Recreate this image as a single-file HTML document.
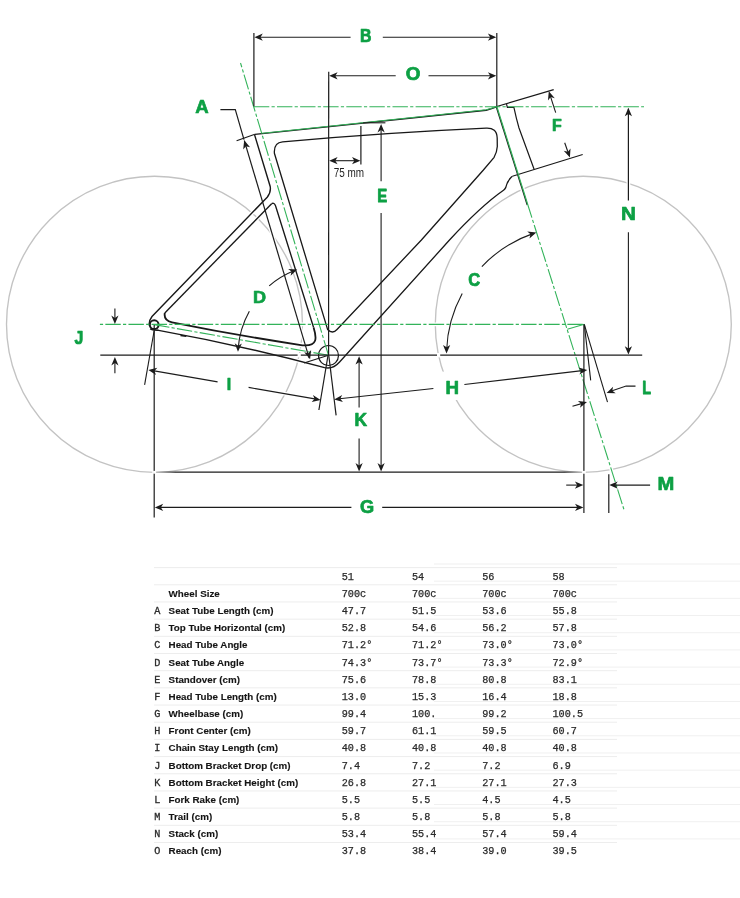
<!DOCTYPE html>
<html><head><meta charset="utf-8"><style>
html,body{margin:0;padding:0;background:#fff;}
svg{display:block;will-change:transform;}
</style></head><body>
<svg width="740" height="898" viewBox="0 0 740 898">
<rect width="740" height="898" fill="#fff"/>
<circle cx="154.5" cy="324.3" r="148" stroke="#c3c3c3" stroke-width="1.35" fill="none"/>
<circle cx="583.3" cy="324.3" r="148" stroke="#c3c3c3" stroke-width="1.35" fill="none"/>
<line x1="496.20" y1="106.50" x2="527.28" y2="205.00" stroke="#fff" stroke-width="3.90"/>
<path d="M254.9,134.4 L486.2,110.3 Q491,109.2 497,106.7" stroke="#fff" stroke-width="4.00" fill="none"/>
<path d="M262.3,133.25 L486.2,109.8 Q491,108.7 497,106.3" stroke="#fff" stroke-width="3.70" fill="none"/>
<path d="M236.6,140.7 L254.9,134.2" stroke="#fff" stroke-width="3.80" fill="none"/>
<path d="M254.6,134.9 L270.2,186.5 Q271.2,192.5 267.2,197.2 L152,316.5 Q148.6,321 149.2,325.5" stroke="#fff" stroke-width="4.00" fill="none"/>
<path d="M150.2,328.8 Q152,330.5 158.4,330.3" stroke="#fff" stroke-width="4.00" fill="none"/>
<path d="M157.3,330.1 Q240,345 324.6,367.6 Q333,369.5 339.6,362 L449.5,240 Q481,206 503.5,190.3 Q505,189 505.7,187.6 Q507,182 510.5,178 Q511.5,176.8 512.4,176.2" stroke="#fff" stroke-width="3.90" fill="none"/>
<line x1="304.00" y1="363.00" x2="328.50" y2="355.30" stroke="#fff" stroke-width="3.70"/>
<line x1="512.40" y1="176.20" x2="582.70" y2="154.50" stroke="#fff" stroke-width="3.80"/>
<path d="M506.5,104.2 L507.4,107.4 L513.9,107.4 C515.5,115 517,121 519,128 L534.1,169.2" stroke="#fff" stroke-width="3.80" fill="none"/>
<line x1="496.80" y1="106.50" x2="553.70" y2="89.60" stroke="#fff" stroke-width="3.80"/>
<path d="M271.6,203.7 Q274.2,202.2 275.6,206 L313.6,327.5" stroke="#fff" stroke-width="3.95" fill="none"/>
<path d="M313.6,327.5 C316.5,337 318.5,346.5 302.5,345.3 Q237,335.4 172,322.3 Q163.5,320.5 164.8,313" stroke="#fff" stroke-width="4.40" fill="none"/>
<path d="M164.8,313 L271.6,203.7" stroke="#fff" stroke-width="3.95" fill="none"/>
<path d="M282.6,141.8 Q384.4,132.65 486.2,128.1 Q496.8,127.6 497.2,138 L497.3,146.5 Q497,152 494.1,157.3 L483.4,170 L421.4,240 L337,329.5 Q332.5,334.5 327.6,329.5 L274.4,153.3 Q273.6,142.5 282.6,141.8 Z" stroke="#fff" stroke-width="3.90" fill="none"/>
<line x1="584.30" y1="324.30" x2="590.70" y2="380.40" stroke="#fff" stroke-width="3.70"/>
<line x1="584.30" y1="324.30" x2="607.50" y2="402.20" stroke="#fff" stroke-width="3.70"/>
<line x1="253.90" y1="106.80" x2="644.00" y2="106.80" stroke="#fff" stroke-width="3.70"/>
<line x1="99.90" y1="324.40" x2="584.30" y2="324.40" stroke="#fff" stroke-width="3.70"/>
<line x1="328.50" y1="355.30" x2="240.52" y2="63.00" stroke="#fff" stroke-width="3.70"/>
<line x1="154.20" y1="324.60" x2="328.50" y2="355.30" stroke="#fff" stroke-width="3.70"/>
<line x1="496.80" y1="106.50" x2="527.25" y2="203.00" stroke="#fff" stroke-width="3.80"/>
<line x1="527.25" y1="203.00" x2="624.10" y2="510.00" stroke="#fff" stroke-width="3.70"/>
<line x1="584.30" y1="324.30" x2="567.30" y2="329.30" stroke="#fff" stroke-width="3.70"/>
<line x1="253.90" y1="33.10" x2="253.90" y2="106.30" stroke="#fff" stroke-width="3.80"/>
<line x1="496.80" y1="33.00" x2="496.80" y2="106.30" stroke="#fff" stroke-width="3.80"/>
<line x1="350.60" y1="37.20" x2="257.40" y2="37.20" stroke="#fff" stroke-width="3.70"/>
<line x1="382.80" y1="37.20" x2="493.30" y2="37.20" stroke="#fff" stroke-width="3.70"/>
<line x1="328.70" y1="71.70" x2="328.60" y2="355.00" stroke="#fff" stroke-width="3.80"/>
<line x1="395.70" y1="75.80" x2="332.20" y2="75.80" stroke="#fff" stroke-width="3.70"/>
<line x1="428.50" y1="75.80" x2="493.30" y2="75.80" stroke="#fff" stroke-width="3.70"/>
<line x1="360.90" y1="126.10" x2="360.90" y2="164.50" stroke="#fff" stroke-width="3.80"/>
<line x1="344.00" y1="160.70" x2="332.20" y2="160.70" stroke="#fff" stroke-width="3.70"/>
<line x1="344.00" y1="160.70" x2="357.40" y2="160.70" stroke="#fff" stroke-width="3.70"/>
<line x1="363.20" y1="122.80" x2="385.40" y2="122.80" stroke="#fff" stroke-width="3.70"/>
<line x1="381.10" y1="181.20" x2="381.10" y2="127.00" stroke="#fff" stroke-width="3.70"/>
<line x1="381.10" y1="213.10" x2="381.10" y2="468.50" stroke="#fff" stroke-width="3.70"/>
<path d="M220.4,109.6 L235.3,109.6 L244,139.6" stroke="#fff" stroke-width="3.80" fill="none"/>
<line x1="244.30" y1="140.60" x2="309.20" y2="358.10" stroke="#fff" stroke-width="3.80"/>
<line x1="555.70" y1="112.60" x2="549.72" y2="94.15" stroke="#fff" stroke-width="3.70"/>
<line x1="564.70" y1="142.70" x2="568.91" y2="154.77" stroke="#fff" stroke-width="3.70"/>
<line x1="628.40" y1="108.80" x2="628.40" y2="200.50" stroke="#fff" stroke-width="3.80"/>
<line x1="628.40" y1="232.20" x2="628.40" y2="351.60" stroke="#fff" stroke-width="3.70"/>
<path d="M481.87,266.54 A128.8,128.8 0 0 1 533.51,233.37" stroke="#fff" stroke-width="3.70" fill="none"/>
<path d="M462.22,293.54 A128.8,128.8 0 0 0 446.59,350.40" stroke="#fff" stroke-width="3.70" fill="none"/>
<path d="M269.21,285.87 A91.3,91.3 0 0 1 294.47,270.58" stroke="#fff" stroke-width="3.70" fill="none"/>
<path d="M249.34,311.24 A90.6,90.6 0 0 0 238.13,348.83" stroke="#fff" stroke-width="3.70" fill="none"/>
<line x1="114.90" y1="308.50" x2="114.90" y2="321.00" stroke="#fff" stroke-width="3.70"/>
<line x1="114.90" y1="373.20" x2="114.90" y2="360.00" stroke="#fff" stroke-width="3.70"/>
<line x1="154.10" y1="331.00" x2="144.60" y2="384.80" stroke="#fff" stroke-width="3.70"/>
<line x1="154.20" y1="325.00" x2="154.20" y2="517.60" stroke="#fff" stroke-width="3.80"/>
<line x1="328.00" y1="355.50" x2="318.90" y2="410.00" stroke="#fff" stroke-width="3.80"/>
<line x1="328.80" y1="355.50" x2="336.10" y2="415.40" stroke="#fff" stroke-width="3.80"/>
<line x1="217.60" y1="381.90" x2="151.36" y2="370.41" stroke="#fff" stroke-width="3.70"/>
<line x1="248.60" y1="387.40" x2="317.64" y2="399.39" stroke="#fff" stroke-width="3.70"/>
<line x1="433.40" y1="388.50" x2="337.18" y2="399.07" stroke="#fff" stroke-width="3.70"/>
<line x1="464.40" y1="384.50" x2="584.32" y2="370.35" stroke="#fff" stroke-width="3.70"/>
<path d="M635.5,386.1 L626.1,386.1 L610,391.6" stroke="#fff" stroke-width="3.70" fill="none"/>
<line x1="583.90" y1="324.50" x2="583.90" y2="513.10" stroke="#fff" stroke-width="3.80"/>
<line x1="572.50" y1="406.30" x2="584.12" y2="402.85" stroke="#fff" stroke-width="3.70"/>
<line x1="608.80" y1="474.20" x2="608.80" y2="513.10" stroke="#fff" stroke-width="3.80"/>
<line x1="566.20" y1="485.10" x2="580.30" y2="485.10" stroke="#fff" stroke-width="3.70"/>
<line x1="650.10" y1="485.10" x2="612.30" y2="485.10" stroke="#fff" stroke-width="3.70"/>
<line x1="359.10" y1="407.40" x2="359.10" y2="359.20" stroke="#fff" stroke-width="3.70"/>
<line x1="359.10" y1="438.40" x2="359.10" y2="468.50" stroke="#fff" stroke-width="3.70"/>
<line x1="351.40" y1="507.40" x2="157.80" y2="507.40" stroke="#fff" stroke-width="3.70"/>
<line x1="382.20" y1="507.40" x2="580.40" y2="507.40" stroke="#fff" stroke-width="3.70"/>
<line x1="496.20" y1="106.50" x2="527.28" y2="205.00" stroke="#181818" stroke-width="1.3" />
<path d="M254.9,134.4 L486.2,110.3 Q491,109.2 497,106.7" stroke="#181818" stroke-width="1.4" fill="none" />
<path d="M262.3,133.25 L486.2,109.8 Q491,108.7 497,106.3" stroke="#33b35a" stroke-width="1.1" fill="none" />
<path d="M236.6,140.7 L254.9,134.2" stroke="#181818" stroke-width="1.2" fill="none" />
<path d="M254.6,134.9 L270.2,186.5 Q271.2,192.5 267.2,197.2 L152,316.5 Q148.6,321 149.2,325.5" stroke="#181818" stroke-width="1.4" fill="none" />
<circle cx="154.2" cy="324.7" r="4.4" stroke="#181818" stroke-width="2.0" fill="none"/>
<path d="M150.2,328.8 Q152,330.5 158.4,330.3" stroke="#181818" stroke-width="1.4" fill="none" />
<path d="M157.3,330.1 Q240,345 324.6,367.6 Q333,369.5 339.6,362 L449.5,240 Q481,206 503.5,190.3 Q505,189 505.7,187.6 Q507,182 510.5,178 Q511.5,176.8 512.4,176.2" stroke="#181818" stroke-width="1.3" fill="none" />
<path d="M180.5,335.4 L186.3,336.3" stroke="#181818" stroke-width="1.5" fill="none" />
<line x1="304.00" y1="363.00" x2="328.50" y2="355.30" stroke="#181818" stroke-width="1.1" />
<line x1="512.40" y1="176.20" x2="582.70" y2="154.50" stroke="#181818" stroke-width="1.2" />
<path d="M506.5,104.2 L507.4,107.4 L513.9,107.4 C515.5,115 517,121 519,128 L534.1,169.2" stroke="#181818" stroke-width="1.2" fill="none" />
<line x1="496.80" y1="106.50" x2="553.70" y2="89.60" stroke="#181818" stroke-width="1.2" />
<circle cx="328.5" cy="355.5" r="10" stroke="#181818" stroke-width="1.2" fill="none"/>
<path d="M271.6,203.7 Q274.2,202.2 275.6,206 L313.6,327.5" stroke="#181818" stroke-width="1.35" fill="none" />
<path d="M313.6,327.5 C316.5,337 318.5,346.5 302.5,345.3 Q237,335.4 172,322.3 Q163.5,320.5 164.8,313" stroke="#181818" stroke-width="1.8" fill="none" />
<path d="M164.8,313 L271.6,203.7" stroke="#181818" stroke-width="1.35" fill="none" />
<path d="M282.6,141.8 Q384.4,132.65 486.2,128.1 Q496.8,127.6 497.2,138 L497.3,146.5 Q497,152 494.1,157.3 L483.4,170 L421.4,240 L337,329.5 Q332.5,334.5 327.6,329.5 L274.4,153.3 Q273.6,142.5 282.6,141.8 Z" stroke="#181818" stroke-width="1.3" fill="none" />
<line x1="584.30" y1="324.30" x2="590.70" y2="380.40" stroke="#181818" stroke-width="1.1" />
<line x1="584.30" y1="324.30" x2="607.50" y2="402.20" stroke="#181818" stroke-width="1.1" />
<line x1="253.90" y1="106.80" x2="644.00" y2="106.80" stroke="#33b35a" stroke-width="1.1" stroke-dasharray="15.4 2.25 3.2 2.25" stroke-dashoffset="0"/>
<line x1="99.90" y1="324.40" x2="584.30" y2="324.40" stroke="#33b35a" stroke-width="1.1" stroke-dasharray="15.4 2.25 3.2 2.25" stroke-dashoffset="17.65"/>
<line x1="328.50" y1="355.30" x2="240.52" y2="63.00" stroke="#33b35a" stroke-width="1.1" stroke-dasharray="15.4 2.25 3.2 2.25" stroke-dashoffset="-0.5"/>
<line x1="154.20" y1="324.60" x2="328.50" y2="355.30" stroke="#33b35a" stroke-width="1.1" stroke-dasharray="15.4 2.25 3.2 2.25" stroke-dashoffset="0"/>
<line x1="496.80" y1="106.50" x2="527.25" y2="203.00" stroke="#33b35a" stroke-width="1.2" />
<line x1="527.25" y1="203.00" x2="624.10" y2="510.00" stroke="#33b35a" stroke-width="1.1" stroke-dasharray="15.4 2.25 3.2 2.25" stroke-dashoffset="0"/>
<line x1="584.30" y1="324.30" x2="567.30" y2="329.30" stroke="#33b35a" stroke-width="1.1" />
<line x1="253.90" y1="33.10" x2="253.90" y2="106.30" stroke="#1c1c1c" stroke-width="1.2" />
<line x1="496.80" y1="33.00" x2="496.80" y2="106.30" stroke="#1c1c1c" stroke-width="1.2" />
<line x1="350.60" y1="37.20" x2="257.40" y2="37.20" stroke="#1c1c1c" stroke-width="1.1" />
<path d="M254.40,37.20L262.80,33.60L260.50,37.20L262.80,40.80Z" fill="#1c1c1c"/>
<line x1="382.80" y1="37.20" x2="493.30" y2="37.20" stroke="#1c1c1c" stroke-width="1.1" />
<path d="M496.30,37.20L487.90,40.80L490.20,37.20L487.90,33.60Z" fill="#1c1c1c"/>
<text transform="matrix(0.15905,0,0,0.17733,360.086,41.550)" font-family="Liberation Sans" font-weight="bold" font-size="100.0" fill="#0da044" stroke="#0da044" stroke-width="4.16" stroke-linejoin="round">B</text>
<line x1="328.70" y1="71.70" x2="328.60" y2="355.00" stroke="#1c1c1c" stroke-width="1.2" />
<line x1="395.70" y1="75.80" x2="332.20" y2="75.80" stroke="#1c1c1c" stroke-width="1.1" />
<path d="M329.20,75.80L337.60,72.20L335.30,75.80L337.60,79.40Z" fill="#1c1c1c"/>
<line x1="428.50" y1="75.80" x2="493.30" y2="75.80" stroke="#1c1c1c" stroke-width="1.1" />
<path d="M496.30,75.80L487.90,79.40L490.20,75.80L487.90,72.20Z" fill="#1c1c1c"/>
<text transform="matrix(0.18854,0,0,0.17796,405.677,80.376)" font-family="Liberation Sans" font-weight="bold" font-size="100.0" fill="#0da044" stroke="#0da044" stroke-width="3.82" stroke-linejoin="round">O</text>
<line x1="360.90" y1="126.10" x2="360.90" y2="164.50" stroke="#1c1c1c" stroke-width="1.2" />
<line x1="344.00" y1="160.70" x2="332.20" y2="160.70" stroke="#1c1c1c" stroke-width="1.1" />
<path d="M329.20,160.70L337.60,157.10L335.30,160.70L337.60,164.30Z" fill="#1c1c1c"/>
<line x1="344.00" y1="160.70" x2="357.40" y2="160.70" stroke="#1c1c1c" stroke-width="1.1" />
<path d="M360.40,160.70L352.00,164.30L354.30,160.70L352.00,157.10Z" fill="#1c1c1c"/>
<text x="333.7" y="176.6" font-family="Liberation Sans" font-size="12.7" fill="#1e1e1e" textLength="30.4" lengthAdjust="spacingAndGlyphs">75 mm</text>
<line x1="363.20" y1="122.80" x2="385.40" y2="122.80" stroke="#1c1c1c" stroke-width="1.1" />
<line x1="381.10" y1="181.20" x2="381.10" y2="127.00" stroke="#1c1c1c" stroke-width="1.1" />
<path d="M381.10,124.00L384.70,132.40L381.10,130.10L377.50,132.40Z" fill="#1c1c1c"/>
<line x1="381.10" y1="213.10" x2="381.10" y2="468.50" stroke="#1c1c1c" stroke-width="1.1" />
<path d="M381.10,471.50L377.50,463.10L381.10,465.40L384.70,463.10Z" fill="#1c1c1c"/>
<text transform="matrix(0.14972,0,0,0.17878,377.148,202.250)" font-family="Liberation Sans" font-weight="bold" font-size="100.0" fill="#0da044" stroke="#0da044" stroke-width="4.26" stroke-linejoin="round">E</text>
<path d="M220.4,109.6 L235.3,109.6 L244,139.6" stroke="#1c1c1c" stroke-width="1.2" fill="none" />
<line x1="244.30" y1="140.60" x2="309.20" y2="358.10" stroke="#1c1c1c" stroke-width="1.2" />
<path d="M244.20,140.30L250.07,147.31L245.96,146.14L243.17,149.38Z" fill="#1c1c1c"/>
<path d="M310.10,359.20L304.23,352.19L308.34,353.36L311.13,350.12Z" fill="#1c1c1c"/>
<text transform="matrix(0.18632,0,0,0.17733,195.186,113.450)" font-family="Liberation Sans" font-weight="bold" font-size="100.0" fill="#0da044" stroke="#0da044" stroke-width="3.85" stroke-linejoin="round">A</text>
<line x1="555.70" y1="112.60" x2="549.72" y2="94.15" stroke="#1c1c1c" stroke-width="1.1" />
<path d="M548.80,91.30L554.81,98.18L550.68,97.10L547.96,100.40Z" fill="#1c1c1c"/>
<line x1="564.70" y1="142.70" x2="568.91" y2="154.77" stroke="#1c1c1c" stroke-width="1.1" />
<path d="M569.90,157.60L563.73,150.86L567.89,151.84L570.53,148.48Z" fill="#1c1c1c"/>
<text transform="matrix(0.15966,0,0,0.17369,551.882,131.400)" font-family="Liberation Sans" font-weight="bold" font-size="100.0" fill="#0da044" stroke="#0da044" stroke-width="4.20" stroke-linejoin="round">F</text>
<line x1="628.40" y1="108.80" x2="628.40" y2="200.50" stroke="#1c1c1c" stroke-width="1.2" />
<path d="M628.40,107.80L632.00,116.20L628.40,113.90L624.80,116.20Z" fill="#1c1c1c"/>
<line x1="628.40" y1="232.20" x2="628.40" y2="351.60" stroke="#1c1c1c" stroke-width="1.1" />
<path d="M628.40,354.60L624.80,346.20L628.40,348.50L632.00,346.20Z" fill="#1c1c1c"/>
<text transform="matrix(0.20582,0,0,0.17588,621.073,219.850)" font-family="Liberation Sans" font-weight="bold" font-size="100.0" fill="#0da044" stroke="#0da044" stroke-width="3.67" stroke-linejoin="round">N</text>
<path d="M481.87,266.54 A128.8,128.8 0 0 1 533.51,233.37" stroke="#1c1c1c" stroke-width="1.1" fill="none" />
<path d="M536.35,232.43L529.44,238.40L530.54,234.27L527.26,231.54Z" fill="#1c1c1c"/>
<path d="M462.22,293.54 A128.8,128.8 0 0 0 446.59,350.40" stroke="#1c1c1c" stroke-width="1.1" fill="none" />
<path d="M446.51,353.40L443.03,344.95L446.60,347.30L450.23,345.05Z" fill="#1c1c1c"/>
<text transform="matrix(0.16519,0,0,0.17938,468.272,285.775)" font-family="Liberation Sans" font-weight="bold" font-size="100.0" fill="#0da044" stroke="#0da044" stroke-width="4.06" stroke-linejoin="round">C</text>
<path d="M269.21,285.87 A91.3,91.3 0 0 1 294.47,270.58" stroke="#1c1c1c" stroke-width="1.1" fill="none" />
<path d="M297.27,269.51L290.61,275.76L291.54,271.59L288.15,269.00Z" fill="#1c1c1c"/>
<path d="M249.34,311.24 A90.6,90.6 0 0 0 238.13,348.83" stroke="#1c1c1c" stroke-width="1.1" fill="none" />
<path d="M237.97,351.82L234.69,343.29L238.20,345.73L241.89,343.57Z" fill="#1c1c1c"/>
<text transform="matrix(0.18099,0,0,0.17369,252.939,302.550)" font-family="Liberation Sans" font-weight="bold" font-size="100.0" fill="#0da044" stroke="#0da044" stroke-width="3.95" stroke-linejoin="round">D</text>
<line x1="100.30" y1="355.20" x2="642.20" y2="355.20" stroke="#1c1c1c" stroke-width="1.2" />
<rect x="297.6" y="353" width="3.2" height="4.4" fill="#fff"/>
<rect x="437" y="353" width="3.2" height="4.4" fill="#fff"/>
<line x1="114.90" y1="308.50" x2="114.90" y2="321.00" stroke="#1c1c1c" stroke-width="1.1" />
<path d="M114.90,324.00L111.30,315.60L114.90,317.90L118.50,315.60Z" fill="#1c1c1c"/>
<line x1="114.90" y1="373.20" x2="114.90" y2="360.00" stroke="#1c1c1c" stroke-width="1.1" />
<path d="M114.90,357.00L118.50,365.40L114.90,363.10L111.30,365.40Z" fill="#1c1c1c"/>
<text transform="matrix(0.15868,0,0,0.17628,74.510,343.878)" font-family="Liberation Sans" font-weight="bold" font-size="100.0" fill="#0da044" stroke="#0da044" stroke-width="4.18" stroke-linejoin="round">J</text>
<line x1="154.10" y1="331.00" x2="144.60" y2="384.80" stroke="#1c1c1c" stroke-width="1.1" />
<line x1="154.20" y1="325.00" x2="154.20" y2="517.60" stroke="#1c1c1c" stroke-width="1.2" />
<line x1="328.00" y1="355.50" x2="318.90" y2="410.00" stroke="#1c1c1c" stroke-width="1.2" />
<line x1="328.80" y1="355.50" x2="336.10" y2="415.40" stroke="#1c1c1c" stroke-width="1.2" />
<line x1="217.60" y1="381.90" x2="151.36" y2="370.41" stroke="#1c1c1c" stroke-width="1.1" />
<path d="M148.40,369.90L157.29,367.79L154.41,370.94L156.06,374.88Z" fill="#1c1c1c"/>
<line x1="248.60" y1="387.40" x2="317.64" y2="399.39" stroke="#1c1c1c" stroke-width="1.1" />
<path d="M320.60,399.90L311.71,402.01L314.59,398.86L312.94,394.92Z" fill="#1c1c1c"/>
<text transform="matrix(0.15967,0,0,0.16861,226.782,389.550)" font-family="Liberation Sans" font-weight="bold" font-size="100.0" fill="#0da044" stroke="#0da044" stroke-width="4.26" stroke-linejoin="round">I</text>
<line x1="433.40" y1="388.50" x2="337.18" y2="399.07" stroke="#1c1c1c" stroke-width="1.1" />
<path d="M334.20,399.40L342.16,394.90L340.26,398.73L342.94,402.06Z" fill="#1c1c1c"/>
<line x1="464.40" y1="384.50" x2="584.32" y2="370.35" stroke="#1c1c1c" stroke-width="1.1" />
<path d="M587.30,370.00L579.38,374.56L581.24,370.71L578.54,367.41Z" fill="#1c1c1c"/>
<rect x="441.2" y="371.6" width="22" height="28.4" fill="#fff"/>
<text transform="matrix(0.18711,0,0,0.17733,445.498,393.650)" font-family="Liberation Sans" font-weight="bold" font-size="100.0" fill="#0da044" stroke="#0da044" stroke-width="3.84" stroke-linejoin="round">H</text>
<path d="M635.5,386.1 L626.1,386.1 L610,391.6" stroke="#1c1c1c" stroke-width="1.1" fill="none" />
<path d="M606.60,393.10L613.06,386.64L612.26,390.83L615.74,393.32Z" fill="#1c1c1c"/>
<text transform="matrix(0.14420,0,0,0.17660,642.285,394.400)" font-family="Liberation Sans" font-weight="bold" font-size="100.0" fill="#0da044" stroke="#0da044" stroke-width="4.36" stroke-linejoin="round">L</text>
<line x1="583.90" y1="324.50" x2="583.90" y2="513.10" stroke="#1c1c1c" stroke-width="1.2" />
<line x1="572.50" y1="406.30" x2="584.12" y2="402.85" stroke="#1c1c1c" stroke-width="1.1" />
<path d="M587.00,402.00L579.97,407.84L581.15,403.73L577.92,400.94Z" fill="#1c1c1c"/>
<line x1="608.80" y1="474.20" x2="608.80" y2="513.10" stroke="#1c1c1c" stroke-width="1.2" />
<line x1="566.20" y1="485.10" x2="580.30" y2="485.10" stroke="#1c1c1c" stroke-width="1.1" />
<path d="M583.30,485.10L574.90,488.70L577.20,485.10L574.90,481.50Z" fill="#1c1c1c"/>
<line x1="650.10" y1="485.10" x2="612.30" y2="485.10" stroke="#1c1c1c" stroke-width="1.1" />
<path d="M609.30,485.10L617.70,481.50L615.40,485.10L617.70,488.70Z" fill="#1c1c1c"/>
<text transform="matrix(0.20165,0,0,0.18024,657.601,489.550)" font-family="Liberation Sans" font-weight="bold" font-size="100.0" fill="#0da044" stroke="#0da044" stroke-width="3.67" stroke-linejoin="round">M</text>
<defs><linearGradient id="gl" gradientUnits="userSpaceOnUse" x1="154" y1="0" x2="584" y2="0"><stop offset="0" stop-color="#1c1c1c" stop-opacity="0"/><stop offset="0.05" stop-color="#1c1c1c" stop-opacity="1"/><stop offset="0.955" stop-color="#1c1c1c" stop-opacity="1"/><stop offset="1" stop-color="#1c1c1c" stop-opacity="0"/></linearGradient></defs>
<line x1="154.4" y1="472.2" x2="583.7" y2="472.2" stroke="url(#gl)" stroke-width="1.2"/>
<rect x="153.1" y="470.9" width="2.6" height="2.8" fill="#fff"/>
<rect x="582.5" y="470.9" width="2.6" height="2.8" fill="#fff"/>
<line x1="359.10" y1="407.40" x2="359.10" y2="359.20" stroke="#1c1c1c" stroke-width="1.1" />
<path d="M359.10,356.20L362.70,364.60L359.10,362.30L355.50,364.60Z" fill="#1c1c1c"/>
<line x1="359.10" y1="438.40" x2="359.10" y2="468.50" stroke="#1c1c1c" stroke-width="1.1" />
<path d="M359.10,471.50L355.50,463.10L359.10,465.40L362.70,463.10Z" fill="#1c1c1c"/>
<text transform="matrix(0.17492,0,0,0.17878,354.480,425.900)" font-family="Liberation Sans" font-weight="bold" font-size="100.0" fill="#0da044" stroke="#0da044" stroke-width="3.96" stroke-linejoin="round">K</text>
<line x1="351.40" y1="507.40" x2="157.80" y2="507.40" stroke="#1c1c1c" stroke-width="1.1" />
<path d="M154.80,507.40L163.20,503.80L160.90,507.40L163.20,511.00Z" fill="#1c1c1c"/>
<line x1="382.20" y1="507.40" x2="580.40" y2="507.40" stroke="#1c1c1c" stroke-width="1.1" />
<path d="M583.40,507.40L575.00,511.00L577.30,507.40L575.00,503.80Z" fill="#1c1c1c"/>
<text transform="matrix(0.18227,0,0,0.18079,359.902,513.373)" font-family="Liberation Sans" font-weight="bold" font-size="100.0" fill="#0da044" stroke="#0da044" stroke-width="3.86" stroke-linejoin="round">G</text>
<rect x="154" y="567.10" width="463" height="1" fill="#ededed"/>
<rect x="434" y="563.50" width="306" height="1" fill="#f0f0f0"/>
<text x="341.70" y="579.60" font-family="Liberation Mono" font-size="10.2" fill="#2a2a2a" stroke="#2a2a2a" stroke-width="0.25">51</text>
<text x="411.97" y="579.60" font-family="Liberation Mono" font-size="10.2" fill="#2a2a2a" stroke="#2a2a2a" stroke-width="0.25">54</text>
<text x="482.24" y="579.60" font-family="Liberation Mono" font-size="10.2" fill="#2a2a2a" stroke="#2a2a2a" stroke-width="0.25">56</text>
<text x="552.51" y="579.60" font-family="Liberation Mono" font-size="10.2" fill="#2a2a2a" stroke="#2a2a2a" stroke-width="0.25">58</text>
<rect x="154" y="584.28" width="463" height="1" fill="#ededed"/>
<rect x="434" y="580.68" width="306" height="1" fill="#f0f0f0"/>
<text x="168.6" y="596.78" font-family="Liberation Sans" font-weight="bold" font-size="9.8" fill="#151515" stroke="#151515" stroke-width="0.12">Wheel Size</text>
<text x="341.70" y="596.78" font-family="Liberation Mono" font-size="10.2" fill="#2a2a2a" stroke="#2a2a2a" stroke-width="0.25">700c</text>
<text x="411.97" y="596.78" font-family="Liberation Mono" font-size="10.2" fill="#2a2a2a" stroke="#2a2a2a" stroke-width="0.25">700c</text>
<text x="482.24" y="596.78" font-family="Liberation Mono" font-size="10.2" fill="#2a2a2a" stroke="#2a2a2a" stroke-width="0.25">700c</text>
<text x="552.51" y="596.78" font-family="Liberation Mono" font-size="10.2" fill="#2a2a2a" stroke="#2a2a2a" stroke-width="0.25">700c</text>
<rect x="154" y="601.46" width="463" height="1" fill="#ededed"/>
<rect x="434" y="597.86" width="306" height="1" fill="#f0f0f0"/>
<text x="154.2" y="613.96" font-family="Liberation Mono" font-size="10.2" fill="#2a2a2a" stroke="#2a2a2a" stroke-width="0.3">A</text>
<text x="168.6" y="613.96" font-family="Liberation Sans" font-weight="bold" font-size="9.8" fill="#151515" stroke="#151515" stroke-width="0.12">Seat Tube Length (cm)</text>
<text x="341.70" y="613.96" font-family="Liberation Mono" font-size="10.2" fill="#2a2a2a" stroke="#2a2a2a" stroke-width="0.25">47.7</text>
<text x="411.97" y="613.96" font-family="Liberation Mono" font-size="10.2" fill="#2a2a2a" stroke="#2a2a2a" stroke-width="0.25">51.5</text>
<text x="482.24" y="613.96" font-family="Liberation Mono" font-size="10.2" fill="#2a2a2a" stroke="#2a2a2a" stroke-width="0.25">53.6</text>
<text x="552.51" y="613.96" font-family="Liberation Mono" font-size="10.2" fill="#2a2a2a" stroke="#2a2a2a" stroke-width="0.25">55.8</text>
<rect x="154" y="618.64" width="463" height="1" fill="#ededed"/>
<rect x="434" y="615.04" width="306" height="1" fill="#f0f0f0"/>
<text x="154.2" y="631.14" font-family="Liberation Mono" font-size="10.2" fill="#2a2a2a" stroke="#2a2a2a" stroke-width="0.3">B</text>
<text x="168.6" y="631.14" font-family="Liberation Sans" font-weight="bold" font-size="9.8" fill="#151515" stroke="#151515" stroke-width="0.12">Top Tube Horizontal (cm)</text>
<text x="341.70" y="631.14" font-family="Liberation Mono" font-size="10.2" fill="#2a2a2a" stroke="#2a2a2a" stroke-width="0.25">52.8</text>
<text x="411.97" y="631.14" font-family="Liberation Mono" font-size="10.2" fill="#2a2a2a" stroke="#2a2a2a" stroke-width="0.25">54.6</text>
<text x="482.24" y="631.14" font-family="Liberation Mono" font-size="10.2" fill="#2a2a2a" stroke="#2a2a2a" stroke-width="0.25">56.2</text>
<text x="552.51" y="631.14" font-family="Liberation Mono" font-size="10.2" fill="#2a2a2a" stroke="#2a2a2a" stroke-width="0.25">57.8</text>
<rect x="154" y="635.82" width="463" height="1" fill="#ededed"/>
<rect x="434" y="632.22" width="306" height="1" fill="#f0f0f0"/>
<text x="154.2" y="648.32" font-family="Liberation Mono" font-size="10.2" fill="#2a2a2a" stroke="#2a2a2a" stroke-width="0.3">C</text>
<text x="168.6" y="648.32" font-family="Liberation Sans" font-weight="bold" font-size="9.8" fill="#151515" stroke="#151515" stroke-width="0.12">Head Tube Angle</text>
<text x="341.70" y="648.32" font-family="Liberation Mono" font-size="10.2" fill="#2a2a2a" stroke="#2a2a2a" stroke-width="0.25">71.2°</text>
<text x="411.97" y="648.32" font-family="Liberation Mono" font-size="10.2" fill="#2a2a2a" stroke="#2a2a2a" stroke-width="0.25">71.2°</text>
<text x="482.24" y="648.32" font-family="Liberation Mono" font-size="10.2" fill="#2a2a2a" stroke="#2a2a2a" stroke-width="0.25">73.0°</text>
<text x="552.51" y="648.32" font-family="Liberation Mono" font-size="10.2" fill="#2a2a2a" stroke="#2a2a2a" stroke-width="0.25">73.0°</text>
<rect x="154" y="653.00" width="463" height="1" fill="#ededed"/>
<rect x="434" y="649.40" width="306" height="1" fill="#f0f0f0"/>
<text x="154.2" y="665.50" font-family="Liberation Mono" font-size="10.2" fill="#2a2a2a" stroke="#2a2a2a" stroke-width="0.3">D</text>
<text x="168.6" y="665.50" font-family="Liberation Sans" font-weight="bold" font-size="9.8" fill="#151515" stroke="#151515" stroke-width="0.12">Seat Tube Angle</text>
<text x="341.70" y="665.50" font-family="Liberation Mono" font-size="10.2" fill="#2a2a2a" stroke="#2a2a2a" stroke-width="0.25">74.3°</text>
<text x="411.97" y="665.50" font-family="Liberation Mono" font-size="10.2" fill="#2a2a2a" stroke="#2a2a2a" stroke-width="0.25">73.7°</text>
<text x="482.24" y="665.50" font-family="Liberation Mono" font-size="10.2" fill="#2a2a2a" stroke="#2a2a2a" stroke-width="0.25">73.3°</text>
<text x="552.51" y="665.50" font-family="Liberation Mono" font-size="10.2" fill="#2a2a2a" stroke="#2a2a2a" stroke-width="0.25">72.9°</text>
<rect x="154" y="670.18" width="463" height="1" fill="#ededed"/>
<rect x="434" y="666.58" width="306" height="1" fill="#f0f0f0"/>
<text x="154.2" y="682.68" font-family="Liberation Mono" font-size="10.2" fill="#2a2a2a" stroke="#2a2a2a" stroke-width="0.3">E</text>
<text x="168.6" y="682.68" font-family="Liberation Sans" font-weight="bold" font-size="9.8" fill="#151515" stroke="#151515" stroke-width="0.12">Standover (cm)</text>
<text x="341.70" y="682.68" font-family="Liberation Mono" font-size="10.2" fill="#2a2a2a" stroke="#2a2a2a" stroke-width="0.25">75.6</text>
<text x="411.97" y="682.68" font-family="Liberation Mono" font-size="10.2" fill="#2a2a2a" stroke="#2a2a2a" stroke-width="0.25">78.8</text>
<text x="482.24" y="682.68" font-family="Liberation Mono" font-size="10.2" fill="#2a2a2a" stroke="#2a2a2a" stroke-width="0.25">80.8</text>
<text x="552.51" y="682.68" font-family="Liberation Mono" font-size="10.2" fill="#2a2a2a" stroke="#2a2a2a" stroke-width="0.25">83.1</text>
<rect x="154" y="687.36" width="463" height="1" fill="#ededed"/>
<rect x="434" y="683.76" width="306" height="1" fill="#f0f0f0"/>
<text x="154.2" y="699.86" font-family="Liberation Mono" font-size="10.2" fill="#2a2a2a" stroke="#2a2a2a" stroke-width="0.3">F</text>
<text x="168.6" y="699.86" font-family="Liberation Sans" font-weight="bold" font-size="9.8" fill="#151515" stroke="#151515" stroke-width="0.12">Head Tube Length (cm)</text>
<text x="341.70" y="699.86" font-family="Liberation Mono" font-size="10.2" fill="#2a2a2a" stroke="#2a2a2a" stroke-width="0.25">13.0</text>
<text x="411.97" y="699.86" font-family="Liberation Mono" font-size="10.2" fill="#2a2a2a" stroke="#2a2a2a" stroke-width="0.25">15.3</text>
<text x="482.24" y="699.86" font-family="Liberation Mono" font-size="10.2" fill="#2a2a2a" stroke="#2a2a2a" stroke-width="0.25">16.4</text>
<text x="552.51" y="699.86" font-family="Liberation Mono" font-size="10.2" fill="#2a2a2a" stroke="#2a2a2a" stroke-width="0.25">18.8</text>
<rect x="154" y="704.54" width="463" height="1" fill="#ededed"/>
<rect x="434" y="700.94" width="306" height="1" fill="#f0f0f0"/>
<text x="154.2" y="717.04" font-family="Liberation Mono" font-size="10.2" fill="#2a2a2a" stroke="#2a2a2a" stroke-width="0.3">G</text>
<text x="168.6" y="717.04" font-family="Liberation Sans" font-weight="bold" font-size="9.8" fill="#151515" stroke="#151515" stroke-width="0.12">Wheelbase (cm)</text>
<text x="341.70" y="717.04" font-family="Liberation Mono" font-size="10.2" fill="#2a2a2a" stroke="#2a2a2a" stroke-width="0.25">99.4</text>
<text x="411.97" y="717.04" font-family="Liberation Mono" font-size="10.2" fill="#2a2a2a" stroke="#2a2a2a" stroke-width="0.25">100.</text>
<text x="482.24" y="717.04" font-family="Liberation Mono" font-size="10.2" fill="#2a2a2a" stroke="#2a2a2a" stroke-width="0.25">99.2</text>
<text x="552.51" y="717.04" font-family="Liberation Mono" font-size="10.2" fill="#2a2a2a" stroke="#2a2a2a" stroke-width="0.25">100.5</text>
<rect x="154" y="721.72" width="463" height="1" fill="#ededed"/>
<rect x="434" y="718.12" width="306" height="1" fill="#f0f0f0"/>
<text x="154.2" y="734.22" font-family="Liberation Mono" font-size="10.2" fill="#2a2a2a" stroke="#2a2a2a" stroke-width="0.3">H</text>
<text x="168.6" y="734.22" font-family="Liberation Sans" font-weight="bold" font-size="9.8" fill="#151515" stroke="#151515" stroke-width="0.12">Front Center (cm)</text>
<text x="341.70" y="734.22" font-family="Liberation Mono" font-size="10.2" fill="#2a2a2a" stroke="#2a2a2a" stroke-width="0.25">59.7</text>
<text x="411.97" y="734.22" font-family="Liberation Mono" font-size="10.2" fill="#2a2a2a" stroke="#2a2a2a" stroke-width="0.25">61.1</text>
<text x="482.24" y="734.22" font-family="Liberation Mono" font-size="10.2" fill="#2a2a2a" stroke="#2a2a2a" stroke-width="0.25">59.5</text>
<text x="552.51" y="734.22" font-family="Liberation Mono" font-size="10.2" fill="#2a2a2a" stroke="#2a2a2a" stroke-width="0.25">60.7</text>
<rect x="154" y="738.90" width="463" height="1" fill="#ededed"/>
<rect x="434" y="735.30" width="306" height="1" fill="#f0f0f0"/>
<text x="154.2" y="751.40" font-family="Liberation Mono" font-size="10.2" fill="#2a2a2a" stroke="#2a2a2a" stroke-width="0.3">I</text>
<text x="168.6" y="751.40" font-family="Liberation Sans" font-weight="bold" font-size="9.8" fill="#151515" stroke="#151515" stroke-width="0.12">Chain Stay Length (cm)</text>
<text x="341.70" y="751.40" font-family="Liberation Mono" font-size="10.2" fill="#2a2a2a" stroke="#2a2a2a" stroke-width="0.25">40.8</text>
<text x="411.97" y="751.40" font-family="Liberation Mono" font-size="10.2" fill="#2a2a2a" stroke="#2a2a2a" stroke-width="0.25">40.8</text>
<text x="482.24" y="751.40" font-family="Liberation Mono" font-size="10.2" fill="#2a2a2a" stroke="#2a2a2a" stroke-width="0.25">40.8</text>
<text x="552.51" y="751.40" font-family="Liberation Mono" font-size="10.2" fill="#2a2a2a" stroke="#2a2a2a" stroke-width="0.25">40.8</text>
<rect x="154" y="756.08" width="463" height="1" fill="#ededed"/>
<rect x="434" y="752.48" width="306" height="1" fill="#f0f0f0"/>
<text x="154.2" y="768.58" font-family="Liberation Mono" font-size="10.2" fill="#2a2a2a" stroke="#2a2a2a" stroke-width="0.3">J</text>
<text x="168.6" y="768.58" font-family="Liberation Sans" font-weight="bold" font-size="9.8" fill="#151515" stroke="#151515" stroke-width="0.12">Bottom Bracket Drop (cm)</text>
<text x="341.70" y="768.58" font-family="Liberation Mono" font-size="10.2" fill="#2a2a2a" stroke="#2a2a2a" stroke-width="0.25">7.4</text>
<text x="411.97" y="768.58" font-family="Liberation Mono" font-size="10.2" fill="#2a2a2a" stroke="#2a2a2a" stroke-width="0.25">7.2</text>
<text x="482.24" y="768.58" font-family="Liberation Mono" font-size="10.2" fill="#2a2a2a" stroke="#2a2a2a" stroke-width="0.25">7.2</text>
<text x="552.51" y="768.58" font-family="Liberation Mono" font-size="10.2" fill="#2a2a2a" stroke="#2a2a2a" stroke-width="0.25">6.9</text>
<rect x="154" y="773.26" width="463" height="1" fill="#ededed"/>
<rect x="434" y="769.66" width="306" height="1" fill="#f0f0f0"/>
<text x="154.2" y="785.76" font-family="Liberation Mono" font-size="10.2" fill="#2a2a2a" stroke="#2a2a2a" stroke-width="0.3">K</text>
<text x="168.6" y="785.76" font-family="Liberation Sans" font-weight="bold" font-size="9.8" fill="#151515" stroke="#151515" stroke-width="0.12">Bottom Bracket Height (cm)</text>
<text x="341.70" y="785.76" font-family="Liberation Mono" font-size="10.2" fill="#2a2a2a" stroke="#2a2a2a" stroke-width="0.25">26.8</text>
<text x="411.97" y="785.76" font-family="Liberation Mono" font-size="10.2" fill="#2a2a2a" stroke="#2a2a2a" stroke-width="0.25">27.1</text>
<text x="482.24" y="785.76" font-family="Liberation Mono" font-size="10.2" fill="#2a2a2a" stroke="#2a2a2a" stroke-width="0.25">27.1</text>
<text x="552.51" y="785.76" font-family="Liberation Mono" font-size="10.2" fill="#2a2a2a" stroke="#2a2a2a" stroke-width="0.25">27.3</text>
<rect x="154" y="790.44" width="463" height="1" fill="#ededed"/>
<rect x="434" y="786.84" width="306" height="1" fill="#f0f0f0"/>
<text x="154.2" y="802.94" font-family="Liberation Mono" font-size="10.2" fill="#2a2a2a" stroke="#2a2a2a" stroke-width="0.3">L</text>
<text x="168.6" y="802.94" font-family="Liberation Sans" font-weight="bold" font-size="9.8" fill="#151515" stroke="#151515" stroke-width="0.12">Fork Rake (cm)</text>
<text x="341.70" y="802.94" font-family="Liberation Mono" font-size="10.2" fill="#2a2a2a" stroke="#2a2a2a" stroke-width="0.25">5.5</text>
<text x="411.97" y="802.94" font-family="Liberation Mono" font-size="10.2" fill="#2a2a2a" stroke="#2a2a2a" stroke-width="0.25">5.5</text>
<text x="482.24" y="802.94" font-family="Liberation Mono" font-size="10.2" fill="#2a2a2a" stroke="#2a2a2a" stroke-width="0.25">4.5</text>
<text x="552.51" y="802.94" font-family="Liberation Mono" font-size="10.2" fill="#2a2a2a" stroke="#2a2a2a" stroke-width="0.25">4.5</text>
<rect x="154" y="807.62" width="463" height="1" fill="#ededed"/>
<rect x="434" y="804.02" width="306" height="1" fill="#f0f0f0"/>
<text x="154.2" y="820.12" font-family="Liberation Mono" font-size="10.2" fill="#2a2a2a" stroke="#2a2a2a" stroke-width="0.3">M</text>
<text x="168.6" y="820.12" font-family="Liberation Sans" font-weight="bold" font-size="9.8" fill="#151515" stroke="#151515" stroke-width="0.12">Trail (cm)</text>
<text x="341.70" y="820.12" font-family="Liberation Mono" font-size="10.2" fill="#2a2a2a" stroke="#2a2a2a" stroke-width="0.25">5.8</text>
<text x="411.97" y="820.12" font-family="Liberation Mono" font-size="10.2" fill="#2a2a2a" stroke="#2a2a2a" stroke-width="0.25">5.8</text>
<text x="482.24" y="820.12" font-family="Liberation Mono" font-size="10.2" fill="#2a2a2a" stroke="#2a2a2a" stroke-width="0.25">5.8</text>
<text x="552.51" y="820.12" font-family="Liberation Mono" font-size="10.2" fill="#2a2a2a" stroke="#2a2a2a" stroke-width="0.25">5.8</text>
<rect x="154" y="824.80" width="463" height="1" fill="#ededed"/>
<rect x="434" y="821.20" width="306" height="1" fill="#f0f0f0"/>
<text x="154.2" y="837.30" font-family="Liberation Mono" font-size="10.2" fill="#2a2a2a" stroke="#2a2a2a" stroke-width="0.3">N</text>
<text x="168.6" y="837.30" font-family="Liberation Sans" font-weight="bold" font-size="9.8" fill="#151515" stroke="#151515" stroke-width="0.12">Stack (cm)</text>
<text x="341.70" y="837.30" font-family="Liberation Mono" font-size="10.2" fill="#2a2a2a" stroke="#2a2a2a" stroke-width="0.25">53.4</text>
<text x="411.97" y="837.30" font-family="Liberation Mono" font-size="10.2" fill="#2a2a2a" stroke="#2a2a2a" stroke-width="0.25">55.4</text>
<text x="482.24" y="837.30" font-family="Liberation Mono" font-size="10.2" fill="#2a2a2a" stroke="#2a2a2a" stroke-width="0.25">57.4</text>
<text x="552.51" y="837.30" font-family="Liberation Mono" font-size="10.2" fill="#2a2a2a" stroke="#2a2a2a" stroke-width="0.25">59.4</text>
<rect x="154" y="841.98" width="463" height="1" fill="#ededed"/>
<rect x="434" y="838.38" width="306" height="1" fill="#f0f0f0"/>
<text x="154.2" y="854.48" font-family="Liberation Mono" font-size="10.2" fill="#2a2a2a" stroke="#2a2a2a" stroke-width="0.3">O</text>
<text x="168.6" y="854.48" font-family="Liberation Sans" font-weight="bold" font-size="9.8" fill="#151515" stroke="#151515" stroke-width="0.12">Reach (cm)</text>
<text x="341.70" y="854.48" font-family="Liberation Mono" font-size="10.2" fill="#2a2a2a" stroke="#2a2a2a" stroke-width="0.25">37.8</text>
<text x="411.97" y="854.48" font-family="Liberation Mono" font-size="10.2" fill="#2a2a2a" stroke="#2a2a2a" stroke-width="0.25">38.4</text>
<text x="482.24" y="854.48" font-family="Liberation Mono" font-size="10.2" fill="#2a2a2a" stroke="#2a2a2a" stroke-width="0.25">39.0</text>
<text x="552.51" y="854.48" font-family="Liberation Mono" font-size="10.2" fill="#2a2a2a" stroke="#2a2a2a" stroke-width="0.25">39.5</text>
</svg>
</body></html>
